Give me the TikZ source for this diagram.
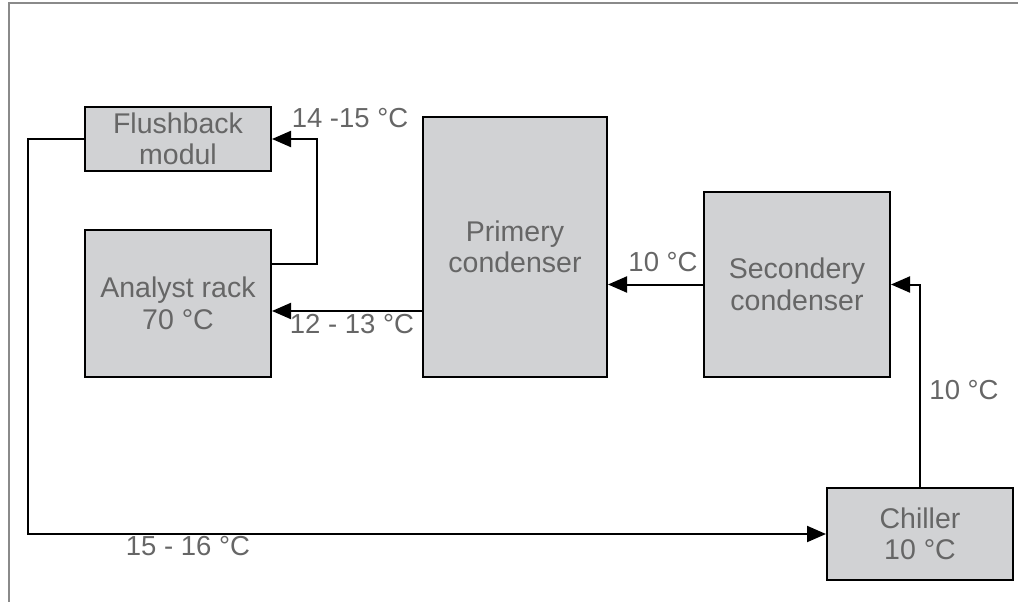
\documentclass[tikz,border=0pt]{standalone}
\usepackage{fontspec}
\setmainfont{Liberation Sans}
\usetikzlibrary{arrows.meta}
\definecolor{boxfill}{HTML}{D1D2D4}
\definecolor{txt}{HTML}{666666}
\definecolor{frame}{HTML}{8A8A8A}
\tikzset{
  unit/.style={draw=black, line width=2pt, fill=boxfill, inner sep=0pt, align=center,
    text=txt, font=\fontsize{28.5}{31.5}\selectfont},
  lbl/.style={text=txt, font=\fontsize{27.5}{31.5}\selectfont, inner sep=0pt,
    text height=0.72em, text depth=0pt},
  flow/.style={draw=black, line width=2pt},
  arr/.style={flow, -{Triangle[length=19pt, width=16pt]}}
}
\begin{document}
\begin{tikzpicture}[x=1pt, y=-1pt]
\useasboundingbox (0,0) rectangle (1018,602);
\draw[frame, line width=1.5pt] (9,602) -- (9,3) -- (1018,3);

\node[unit, minimum width=186pt, minimum height=64pt] (flush) at (178,139) {Flushback\\modul};
\node[unit, minimum width=186pt, minimum height=147pt] (rack) at (178,303.5) {Analyst rack\\70 °C};
\node[unit, minimum width=184pt, minimum height=260pt] (prim) at (515,247) {Primery\\condenser};
\node[unit, minimum width=186pt, minimum height=185pt] (sec) at (797,284.5) {Secondery\\condenser};
\node[unit, minimum width=186pt, minimum height=92pt] (chill) at (920,534) {Chiller\\10 °C};

\coordinate (c1) at (317,264);
\coordinate (c311) at (0,311);
\coordinate (c3) at (28,534);

\draw[arr] (rack.east |- c1) -- (c1) |- (flush.east);
\draw[arr] (prim.west |- c311) -- (rack.east |- c311);
\draw[arr] (sec.west) -- (sec.west -| prim.east);
\draw[arr] (chill.north) |- (sec.east);
\draw[arr] (flush.west) -| (c3) -- (chill.west);

\node[lbl] (l1) at (350,124) {14 -15 °C};
\node[lbl] (l2) at (352,330) {12 - 13 °C};
\node[lbl] (l3) at (663,268) {10 °C};
\node[lbl] (l4) at (964,396) {10 °C};
\node[lbl] (l5) at (188,552) {15 - 16 °C};
\end{tikzpicture}
\end{document}
